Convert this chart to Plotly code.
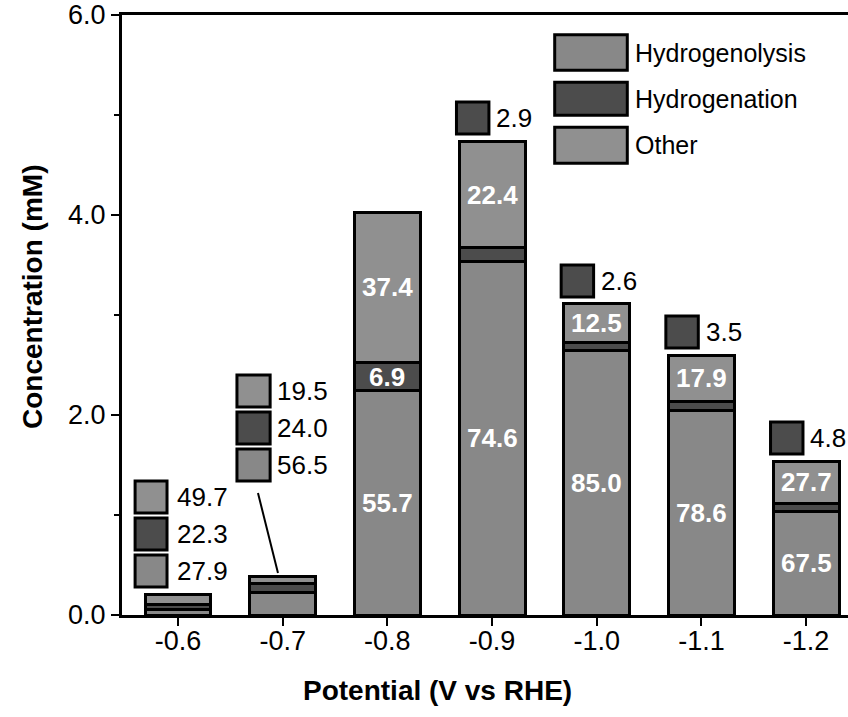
import plotly.graph_objects as go

# Electrolysis potentials and product distribution
potentials = ["-0.6", "-0.7", "-0.8", "-0.9", "-1.0", "-1.1", "-1.2"]
total_mM = [0.21, 0.39, 4.03, 4.74, 3.11, 2.60, 1.54]
hydrogenolysis_pct = [27.9, 56.5, 55.7, 74.6, 85.0, 78.6, 67.5]
hydrogenation_pct = [22.3, 24.0, 6.9, 2.9, 2.6, 3.5, 4.8]
other_pct = [49.7, 19.5, 37.4, 22.4, 12.5, 17.9, 27.7]
series_names = ["Hydrogenolysis", "Hydrogenation", "Other"]

FONT = "Liberation Sans"
COLORS = {"Hydrogenolysis": "#888888", "Hydrogenation": "#4c4c4c", "Other": "#909090"}
BAR_W = 0.63
EDGE = 3

x = list(range(len(potentials)))
pcts = {"Hydrogenolysis": hydrogenolysis_pct,
        "Hydrogenation": hydrogenation_pct,
        "Other": other_pct}
seg = {k: [t * p / 100 for t, p in zip(total_mM, v)] for k, v in pcts.items()}

fig = go.Figure()
for name in series_names:
    fig.add_trace(go.Bar(
        x=x, y=seg[name], name=name, width=BAR_W,
        marker=dict(color=COLORS[name], line=dict(color="black", width=EDGE)),
        showlegend=False, hoverinfo="skip",
    ))

shapes = []
annotations = []


def swatch(x0, x1, y0, y1, color, ref="x"):
    yref = "y" if ref == "x" else "paper"
    shapes.append(dict(type="rect", xref=ref, yref=yref, x0=x0, x1=x1, y0=y0, y1=y1,
                       fillcolor=color, line=dict(color="black", width=EDGE), layer="above"))


def label(xv, yv, text, color="black", bold=False, size=26, anchor="center", ref="x"):
    yref = "y" if ref == "x" else "paper"
    annotations.append(dict(x=xv, y=yv, xref=ref, yref=yref, text=f"<b>{text}</b>" if bold else text,
                            showarrow=False, xanchor=anchor, yanchor="middle",
                            font=dict(family=FONT, size=size, color=color)))


# White values inside the tall bars
for i in range(2, len(x)):
    base_h = seg["Hydrogenolysis"][i]
    mid_h = seg["Hydrogenation"][i]
    top_o = seg["Other"][i]
    label(i, base_h / 2, f"{hydrogenolysis_pct[i]:.1f}", color="white", bold=True)
    label(i, base_h + mid_h + top_o / 2, f"{other_pct[i]:.1f}", color="white", bold=True)
    if i == 2:
        label(i, base_h + mid_h / 2, f"{hydrogenation_pct[i]:.1f}", color="white", bold=True)
    else:
        # small hydrogenation tag above the bar
        y0 = total_mM[i] + 0.07
        swatch(i - 0.34, i - 0.03, y0, y0 + 0.32, COLORS["Hydrogenation"])
        label(i + 0.02, y0 + 0.16, f"{hydrogenation_pct[i]:.1f}", anchor="left")

# Side keys for the two small bars (top row: Other, then Hydrogenation, then Hydrogenolysis)
side_rows = {0: [1.18, 0.81, 0.44], 1: [2.24, 1.87, 1.50]}
side_dx = {0: (-0.41, -0.105, -0.03), 1: (-0.437, -0.12, -0.07)}
for i, rows in side_rows.items():
    sx0, sx1, tx = side_dx[i]
    order = ["Other", "Hydrogenation", "Hydrogenolysis"]
    for name, yc in zip(order, rows):
        swatch(i + sx0, i + sx1, yc - 0.16, yc + 0.16, COLORS[name])
        label(i + tx, yc, f"{pcts[name][i]:.1f}", anchor="left")

# Leader line from the -0.7 key down to its bar
shapes.append(dict(type="line", xref="x", yref="y", x0=0.764, y0=1.22,
                   x1=0.955, y1=total_mM[1] + 0.03, line=dict(color="black", width=2)))

# Legend box (top right)
leg_rows = [(0.967, 0.908), (0.888, 0.833), (0.813, 0.753)]
for name, (ya, yb) in zip(series_names, leg_rows):
    swatch(0.596, 0.696, yb, ya, COLORS[name], ref="paper")
    label(0.704, (ya + yb) / 2, name, anchor="left", size=25, ref="paper")

# Axis titles
annotations.append(dict(x=-0.124, y=0.53, xref="paper", yref="paper", text="<b>Concentration (mM)</b>",
                        textangle=-90, showarrow=False, xanchor="center", yanchor="middle",
                        font=dict(family=FONT, size=28, color="black")))
annotations.append(dict(x=0.434, y=-0.125, xref="paper", yref="paper", text="<b>Potential (V vs RHE)</b>",
                        showarrow=False, xanchor="center", yanchor="middle",
                        font=dict(family=FONT, size=28, color="black")))

fig.update_layout(
    width=848, height=717,
    margin=dict(l=122, r=0, t=15, b=102),
    barmode="stack",
    plot_bgcolor="white", paper_bgcolor="white",
    font=dict(family=FONT, size=27, color="black"),
    shapes=shapes, annotations=annotations,
    showlegend=False,
)
fig.update_xaxes(
    range=[-0.535, 6.4], tickvals=x, ticktext=potentials,
    showline=True, linecolor="black", linewidth=EDGE, mirror=True,
    ticks="outside", ticklen=8, tickwidth=2, tickcolor="black",
    showgrid=False, zeroline=False, tickfont=dict(size=27),
    ticklabelstandoff=-8,
)
fig.update_yaxes(
    range=[0, 6], tickvals=[0, 2, 4, 6], ticktext=["0.0", "2.0", "4.0", "6.0"],
    showline=True, linecolor="black", linewidth=EDGE,
    ticks="outside", ticklen=8, tickwidth=2, tickcolor="black",
    minor=dict(tickvals=[1, 3, 5], ticks="outside", ticklen=5, tickwidth=2, tickcolor="black"),
    showgrid=False, zeroline=False, tickfont=dict(size=27),
)

fig.write_html("out.html")
